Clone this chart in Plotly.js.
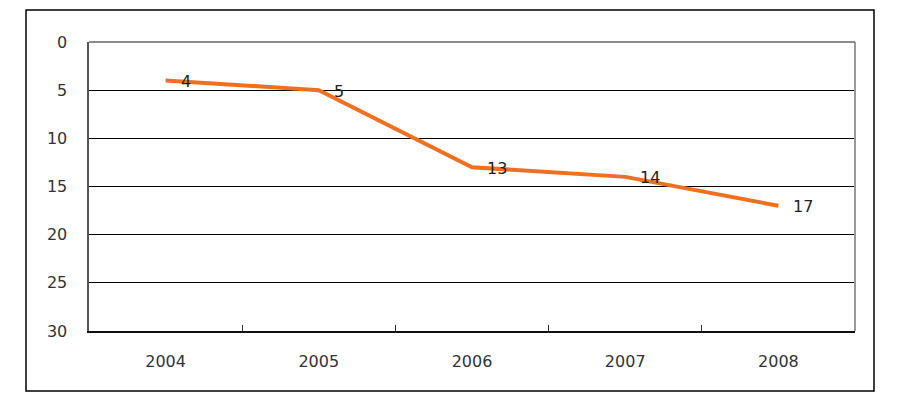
<!DOCTYPE html>
<html>
<head>
<meta charset="utf-8">
<script src="https://cdn.plot.ly/plotly-3.0.1.min.js"></script>
<style>
  html, body { margin: 0; padding: 0; background: #fff; }
  #chart { width: 904px; height: 403px; }
</style>
</head>
<body>
<div id="chart"></div>
<script>
const years = ['2004', '2005', '2006', '2007', '2008'];
const values = [4, 5, 13, 14, 17];
const valueLabels = ['4', '5', '13', '14', '17'];
const yTickVals = [0, 5, 10, 15, 20, 25, 30];

const L = 89, R = 855, T = 42, B = 331, W = 904, H = 403;
const pw = R - L, ph = B - T;
function px(x) { return (x - L) / pw; }
function py(y) { return (B - y) / ph; }

const font = { family: 'DejaVu Sans', size: 16, color: '#333' };

const trace = {
  x: years,
  y: values,
  type: 'scatter',
  mode: 'lines',
  line: { color: '#F07020', width: 4 },
  cliponaxis: false,
  hoverinfo: 'skip'
};

// category axis: annotation x given as category index
const labelAnnotations = years.map((yr, i) => ({
  x: i, y: values[i], xref: 'x', yref: 'y',
  text: valueLabels[i],
  showarrow: false,
  xanchor: 'left', yanchor: 'middle',
  xshift: 13, yshift: -1,
  font: { family: 'DejaVu Sans', size: 16, color: '#222' }
}));

const layout = {
  width: W, height: H,
  margin: { l: L, r: W - R, t: T, b: H - B, pad: 0 },
  paper_bgcolor: '#fff',
  plot_bgcolor: '#fff',
  showlegend: false,
  font: font,
  xaxis: {
    type: 'category',
    range: [-0.5, 4.5],
    tickson: 'boundaries',
    ticks: 'inside',
    ticklen: 6,
    tickcolor: '#333',
    showgrid: false,
    showline: true,
    linecolor: '#111',
    linewidth: 1.5,
    mirror: false,
    zeroline: false,
    tickfont: font,
    ticklabelstandoff: 15,
    fixedrange: true
  },
  yaxis: {
    range: [30, 0],
    tickvals: yTickVals,
    ticktext: yTickVals.map(String),
    showgrid: true,
    gridcolor: '#000',
    gridwidth: 1,
    showline: true,
    linecolor: '#555',
    linewidth: 2.5,
    mirror: false,
    zeroline: false,
    ticks: '',
    tickfont: font,
    ticklabelstandoff: 16,
    fixedrange: true
  },
  annotations: labelAnnotations,
  shapes: [
    {
      type: 'rect', xref: 'paper', yref: 'paper',
      x0: px(26), x1: px(874), y0: py(391), y1: py(10),
      line: { color: '#000', width: 1.5 },
      fillcolor: 'rgba(0,0,0,0)',
      layer: 'below'
    },
    {
      type: 'line', xref: 'paper', yref: 'paper',
      x0: 1, x1: 1, y0: 0, y1: 1,
      line: { color: '#999', width: 2 }
    },
    {
      type: 'line', xref: 'paper', yref: 'paper',
      x0: 0, x1: 1, y0: 1, y1: 1,
      line: { color: '#666', width: 1.5 }
    }
  ]
};

Plotly.newPlot('chart', [trace], layout, { displayModeBar: false, staticPlot: true });
</script>
</body>
</html>
